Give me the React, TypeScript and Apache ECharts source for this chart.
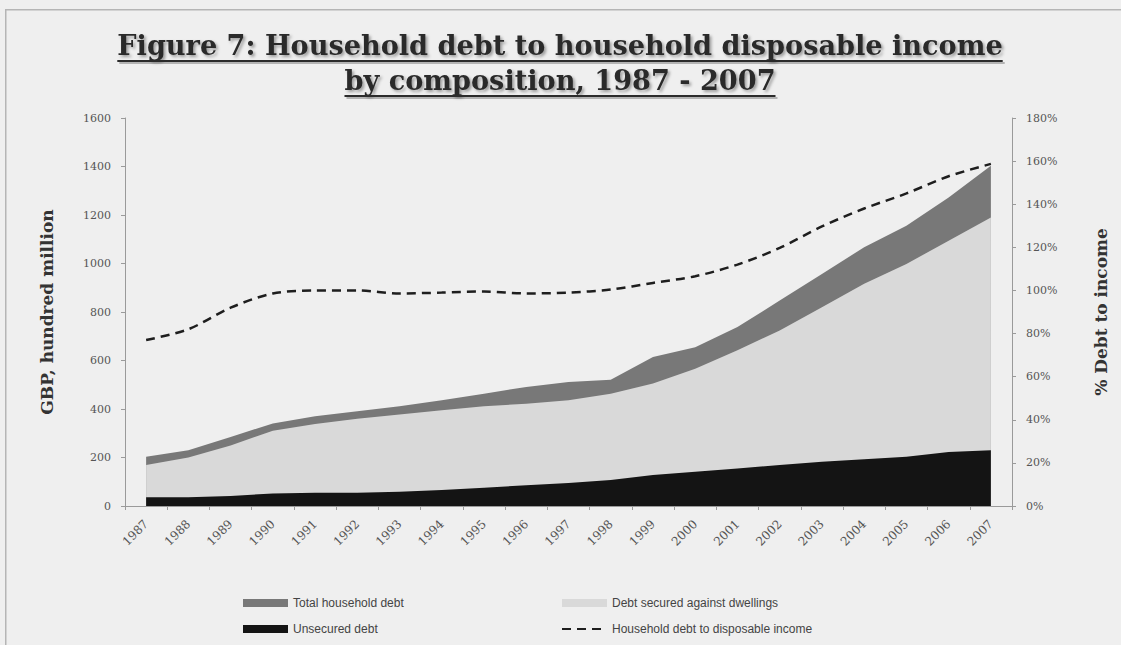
import React, { useEffect, useRef } from "react";
import * as echarts from "echarts";

const years = ["1987","1988","1989","1990","1991","1992","1993","1994","1995","1996","1997","1998","1999","2000","2001","2002","2003","2004","2005","2006","2007"];
const totalDebt = [203, 230, 285, 340, 370, 391, 411, 436, 463, 491, 511, 521, 614, 655, 738, 847, 957, 1067, 1156, 1272, 1403];
const securedDebt = [169, 200, 250, 310, 338, 360, 377, 395, 411, 422, 436, 463, 505, 566, 642, 724, 820, 916, 998, 1094, 1190];
const unsecuredDebt = [36, 36, 41, 52, 55, 55, 59, 66, 75, 86, 95, 107, 128, 141, 155, 169, 182, 193, 203, 223, 230];
const debtToIncome = [77, 82, 92, 98.6, 100, 100, 98.6, 99, 99.5, 98.6, 99, 100.4, 103.5, 106.6, 112, 119.7, 129.7, 138, 145, 153, 158.7];

const titleLine1 = "Figure 7: Household debt to household disposable income";
const titleLine2 = "by composition, 1987 - 2007";

const W = 1121;
const H = 645;

function measure(text: string, font: string): number {
  const c = document.createElement("canvas").getContext("2d");
  if (!c) return text.length * 15;
  c.font = font;
  return c.measureText(text).width;
}

export default function App() {
  const ref = useRef<HTMLDivElement>(null);
  useEffect(() => {
    if (!ref.current) return;
    const chart = echarts.init(ref.current, null, { renderer: "svg" });
    const titleFamily = "DejaVu Serif";
    const baseSize = 24;
    const baseW = measure(titleLine1, `bold ${baseSize}px "${titleFamily}"`);
    const titleSize = Math.max(18, Math.min(30, (baseSize * 886) / (baseW || 886)));
    const titleFont = `bold ${titleSize}px "${titleFamily}"`;
    const w1 = measure(titleLine1, titleFont) || 886;
    const w2 = measure(titleLine2, titleFont) || 446;
    const cx = 560;
    const y1 = 45;
    const y2 = 80;
    const titleText = (text: string, y: number) => ({
      type: "text",
      x: cx,
      y,
      z: 10,
      style: {
        text,
        fill: "#2b2b2b",
        font: titleFont,
        textAlign: "center",
        textVerticalAlign: "middle",
        textShadowColor: "rgba(0,0,0,0.35)",
        textShadowBlur: 3,
        textShadowOffsetX: 2,
        textShadowOffsetY: 2,
      },
    });
    const underline = (w: number, y: number) => [
      {
        type: "rect",
        z: 9,
        shape: { x: cx - w / 2 + 2, y: y + 2, width: w, height: 2 },
        style: { fill: "rgba(0,0,0,0.25)" },
      },
      {
        type: "rect",
        z: 10,
        shape: { x: cx - w / 2, y, width: w, height: 2 },
        style: { fill: "#2b2b2b" },
      },
    ];

    const axisLabelStyle = {
      fontFamily: "DejaVu Serif",
      fontSize: 11,
      color: "#555",
    };
    const axisNameStyle = {
      fontFamily: "DejaVu Serif",
      fontWeight: "bold",
      fontSize: 17,
      color: "#333",
    };

    chart.setOption({
      animation: false,
      backgroundColor: "#efefef",
      graphic: [
        {
          type: "rect",
          shape: { x: 5, y: 9, width: W - 5, height: 1.5 },
          style: { fill: "#b5b5b5" },
        },
        {
          type: "rect",
          shape: { x: 5, y: 9, width: 1.5, height: H - 9 },
          style: { fill: "#b5b5b5" },
        },
        titleText(titleLine1, y1),
        ...underline(w1, y1 + titleSize * 0.55),
        titleText(titleLine2, y2),
        ...underline(w2, y2 + titleSize * 0.55),
      ],
      grid: { left: 125, right: W - 1012, top: 118, bottom: H - 506, containLabel: false },
      xAxis: {
        type: "category",
        data: years,
        boundaryGap: true,
        axisLine: { show: true, lineStyle: { color: "#9a9a9a", width: 1 } },
        axisTick: { show: true, length: 4, lineStyle: { color: "#9a9a9a" } },
        axisLabel: { ...axisLabelStyle, fontSize: 12, rotate: 45, interval: 0, margin: 16 },
        splitLine: { show: false },
      },
      yAxis: [
        {
          type: "value",
          min: 0,
          max: 1600,
          interval: 200,
          name: "GBP, hundred million",
          nameLocation: "middle",
          nameGap: 70,
          nameRotate: 90,
          nameTextStyle: axisNameStyle,
          axisLine: { show: true, lineStyle: { color: "#9a9a9a", width: 1 } },
          axisTick: { show: true, length: 4, lineStyle: { color: "#9a9a9a" } },
          axisLabel: { ...axisLabelStyle, margin: 14, formatter: (v: number) => String(v) },
          splitLine: { show: false },
        },
        {
          type: "value",
          min: 0,
          max: 180,
          interval: 20,
          position: "right",
          name: "% Debt to income",
          nameLocation: "middle",
          nameGap: 80,
          nameRotate: 90,
          nameTextStyle: axisNameStyle,
          axisLine: { show: true, lineStyle: { color: "#9a9a9a", width: 1 } },
          axisTick: { show: true, length: 4, lineStyle: { color: "#9a9a9a" } },
          axisLabel: { ...axisLabelStyle, margin: 14, formatter: (v: number) => v + "%" },
          splitLine: { show: false },
        },
      ],
      legend: [
        {
          orient: "vertical",
          left: 238,
          top: 592,
          itemWidth: 45,
          itemHeight: 8,
          itemGap: 14,
          textStyle: { fontFamily: "Liberation Sans", fontSize: 12, color: "#444" },
          data: [
            { name: "Total household debt", icon: "rect" },
            { name: "Unsecured debt", icon: "rect" },
          ],
        },
        {
          orient: "vertical",
          left: 556,
          top: 592,
          itemWidth: 45,
          itemHeight: 8,
          itemGap: 14,
          textStyle: { fontFamily: "Liberation Sans", fontSize: 12, color: "#444" },
          data: [
            { name: "Debt secured against dwellings", icon: "rect" },
            { name: "Household debt to disposable income", itemStyle: { opacity: 0 } },
          ],
        },
      ],
      series: [
        {
          name: "Total household debt",
          type: "line",
          data: totalDebt,
          yAxisIndex: 0,
          symbol: "none",
          lineStyle: { width: 0, color: "#787878" },
          itemStyle: { color: "#787878" },
          areaStyle: { color: "#787878", opacity: 1 },
          z: 1,
        },
        {
          name: "Debt secured against dwellings",
          type: "line",
          data: securedDebt,
          yAxisIndex: 0,
          symbol: "none",
          lineStyle: { width: 0, color: "#d9d9d9" },
          itemStyle: { color: "#d9d9d9" },
          areaStyle: { color: "#d9d9d9", opacity: 1 },
          z: 2,
        },
        {
          name: "Unsecured debt",
          type: "line",
          data: unsecuredDebt,
          yAxisIndex: 0,
          symbol: "none",
          lineStyle: { width: 0, color: "#141414" },
          itemStyle: { color: "#141414" },
          areaStyle: { color: "#141414", opacity: 1 },
          z: 3,
        },
        {
          name: "Household debt to disposable income",
          type: "line",
          data: debtToIncome,
          yAxisIndex: 1,
          symbol: "none",
          smooth: 0.3,
          lineStyle: { width: 2.5, color: "#1e1e1e", type: [9, 6] },
          itemStyle: { color: "#1e1e1e" },
          z: 4,
        },
      ],
    });
    return () => chart.dispose();
  }, []);
  return (
    <div
      ref={ref}
      style={{ position: "absolute", left: 0, top: 0, width: W, height: H }}
    />
  );
}
